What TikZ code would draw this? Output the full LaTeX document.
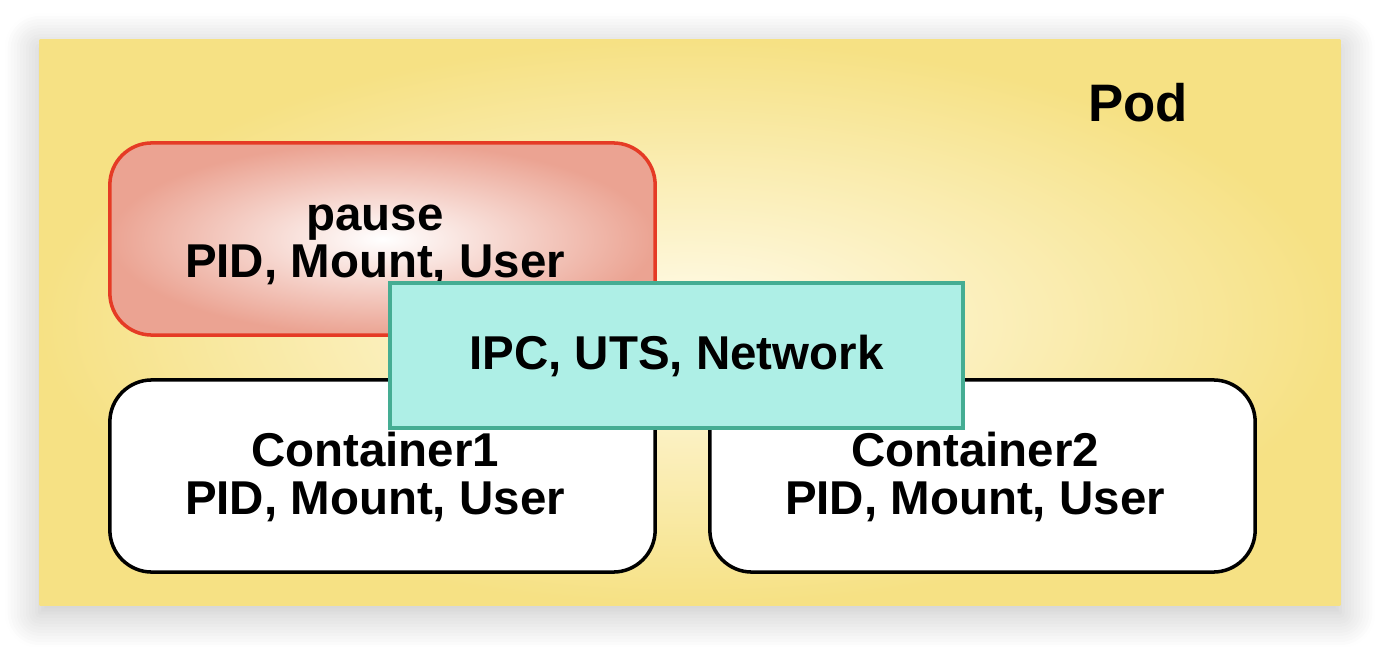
\documentclass[tikz,border=0pt]{standalone}
\usepackage{fontspec}
\setmainfont{Liberation Sans}
\usetikzlibrary{shadows.blur}

\definecolor{podedge}{HTML}{F6E184}
\definecolor{podmid}{HTML}{FFFBEA}
\definecolor{pausered}{HTML}{E53B25}
\definecolor{pausefill}{HTML}{EBA392}
\definecolor{nsfill}{HTML}{AEEFE6}
\definecolor{nsedge}{HTML}{45AD93}

\tikzset{
  label text/.style={font=\fontsize{13.5}{13.4}\selectfont\bfseries, align=center, inner sep=0pt},
  ctr box/.style={rectangle, rounded corners=0.42cm, line width=1pt,
    minimum width=5.45cm, minimum height=1.92cm, inner sep=0pt},
}

\begin{document}
\begin{tikzpicture}[x=0.01cm, y=-0.01cm]
  \useasboundingbox (0,0) rectangle (1380,646);

  \node (pod) at (690,322.5) [rectangle, minimum width=13cm, minimum height=5.65cm,
    inner color=podmid, outer color=podedge,
    blur shadow={shadow xshift=0cm, shadow yshift=-0.08cm, shadow blur radius=0.35cm,
      shadow blur steps=12, shadow opacity=25}] {};
  \node (podname) at (1138,103) [font=\fontsize{15}{15}\selectfont\bfseries] {Pod};

  % the three process boxes
  \node (pause) at (382.5,239) [ctr box, draw=pausered, inner color=white, outer color=pausefill] {};
  \node (c1) at (382.5,476) [ctr box, draw=black, fill=white] {};
  \node (c2) at (982.5,476) [ctr box, draw=black, fill=white] {};

  \node (pausetext) at (375,245) [label text] {pause\\PID, Mount, User};
  \node (c1text) at (375,477) [label text] {Container1\\PID, Mount, User};
  \node (c2text) at (975,477) [label text] {Container2\\PID, Mount, User};

  % shared namespaces
  \node (ns) at (676.5,355.5) [label text, rectangle, draw=nsedge, fill=nsfill, line width=1pt,
    minimum width=5.73cm, minimum height=1.45cm] {IPC, UTS, Network};
\end{tikzpicture}
\end{document}
